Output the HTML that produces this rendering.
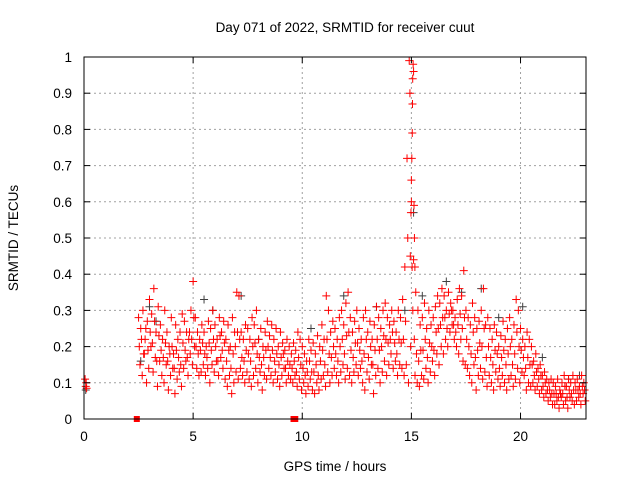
<!DOCTYPE html>
<html><head><meta charset="utf-8"><style>
body{margin:0;background:#fff}
svg text{font-family:"Liberation Sans",sans-serif;font-size:13.5px;fill:#000}
</style></head><body>
<svg id="chart" width="640" height="480" viewBox="0 0 640 480" xmlns="http://www.w3.org/2000/svg">
<rect width="640" height="480" fill="#fff"/>
<g id="grid"></g><g id="marks"></g><g id="axes"></g>
<text x="345" y="32" text-anchor="middle">Day 071 of 2022, SRMTID for receiver cuut</text>
<text x="335" y="471" text-anchor="middle">GPS time / hours</text>
<text transform="translate(18,238) rotate(-90)" text-anchor="middle">SRMTID / TECUs</text>
</svg>
<script>
const xTicks=[0,5,10,15,20];
const yTicks=[0,0.1,0.2,0.3,0.4,0.5,0.6,0.7,0.8,0.9,1];
const yTickLabels=["0","0.1","0.2","0.3","0.4","0.5","0.6","0.7","0.8","0.9","1"];
const mainStart=2.5, mainStep=0.1;
const upperVals=[.28,.25,.30,.22,.27,.33,.29,.36,.24,.31,.26,.22,.30,.24,.20,.28,.18,.26,.22,.24,.29,.27,.24,.22,.30,.38,.28,.24,.22,.26,.24,.20,.27,.25,.30,.26,.22,.28,.24,.27,.22,.26,.20,.28,.24,.35,.34,.24,.22,.26,.25,.22,.28,.26,.30,.22,.25,.20,.24,.27,.23,.26,.22,.25,.20,.24,.21,.19,.22,.20,.18,.21,.19,.24,.22,.20,.18,.16,.22,.19,.21,.18,.23,.20,.26,.22,.34,.30,.24,.27,.25,.22,.28,.30,.26,.32,.35,.28,.24,.27,.30,.25,.22,.28,.30,.24,.27,.22,.26,.31,.28,.25,.30,.32,.28,.26,.30,.27,.24,.30,.28,.33,.42,.72,.99,.60,.44,.35,.30,.26,.28,.32,.25,.30,.26,.28,.31,.34,.32,.36,.34,.30,.35,.32,.30,.28,.33,.36,.34,.41,.30,.28,.26,.32,.28,.25,.27,.30,.36,.26,.28,.25,.22,.26,.24,.20,.23,.27,.22,.25,.28,.22,.26,.33,.30,.25,.22,.20,.24,.22,.20,.16,.18,.14,.15,.12,.13,.11,.10,.11,.10,.09,.11,.08,.10,.12,.09,.11,.10,.12,.10,.11,.09,.12,.10];
const midVals=[.20,.22,.18,.25,.19,.24,.21,.27,.16,.23,.19,.17,.21,.16,.18,.20,.14,.19,.17,.15,.21,.19,.17,.24,.22,.28,.20,.18,.19,.21,.18,.17,.21,.19,.22,.20,.16,.23,.19,.21,.16,.19,.14,.18,.20,.24,.22,.17,.16,.19,.18,.16,.20,.21,.18,.17,.15,.17,.19,.20,.17,.19,.16,.18,.15,.17,.18,.14,.16,.15,.14,.16,.13,.17,.15,.14,.12,.13,.16,.13,.13,.15,.12,.16,.19,.15,.22,.18,.17,.20,.18,.16,.20,.22,.18,.23,.24,.19,.17,.21,.21,.19,.16,.18,.22,.17,.20,.15,.19,.22,.19,.20,.23,.22,.21,.22,.24,.21,.18,.22,.21,.22,.27,.50,.90,.42,.22,.18,.16,.19,.19,.22,.17,.21,.20,.19,.24,.25,.26,.28,.28,.25,.29,.30,.26,.24,.26,.29,.25,.28,.22,.20,.18,.24,.17,.19,.21,.20,.25,.17,.20,.17,.15,.19,.18,.14,.17,.19,.15,.18,.20,.15,.18,.24,.20,.19,.17,.14,.17,.15,.15,.12,.13,.11,.12,.09,.10,.08,.08,.07,.07,.07,.06,.07,.07,.09,.06,.08,.07,.08,.08,.08,.07,.09,.08];
const lowerVals=[.15,.12,.18,.10,.14,.20,.13,.17,.09,.16,.12,.10,.15,.08,.12,.14,.07,.11,.13,.09,.14,.16,.12,.18,.15,.20,.14,.12,.13,.15,.12,.14,.10,.15,.13,.16,.12,.17,.14,.11,.09,.12,.07,.10,.13,.11,.14,.12,.10,.13,.11,.09,.12,.14,.10,.13,.08,.12,.11,.14,.12,.10,.13,.11,.09,.12,.14,.10,.12,.11,.10,.12,.09,.11,.08,.10,.07,.09,.11,.08,.07,.10,.08,.11,.12,.09,.13,.10,.12,.14,.12,.10,.13,.15,.11,.14,.12,.10,.13,.15,.12,.14,.10,.08,.13,.11,.15,.07,.12,.14,.10,.13,.16,.12,.15,.18,.14,.16,.12,.15,.14,.12,.15,.10,.20,.30,.12,.10,.09,.12,.11,.14,.10,.13,.16,.12,.18,.15,.20,.18,.22,.20,.24,.26,.22,.20,.18,.22,.16,.15,.14,.12,.10,.15,.08,.12,.14,.11,.13,.09,.12,.10,.08,.13,.11,.09,.12,.10,.08,.11,.12,.09,.11,.14,.10,.13,.12,.08,.10,.09,.10,.08,.09,.07,.08,.06,.07,.05,.06,.04,.04,.05,.03,.06,.04,.05,.03,.06,.05,.04,.05,.06,.04,.07,.05];
const spikeTimes=[14.95,14.98,15.0,15.02,15.04,15.05,15.06,15.08,15.1,15.12,15.14,15.16,0.05,0.08,0.1,0.12];
const spikeVals=[.45,.57,.66,.72,.79,.87,.94,.98,.96,.59,.5,.42,.11,.09,.10,.085];
const darkTimes=[0.08,2.6,3.0,3.3,5.5,5.9,7.2,8.0,10.4,11.9,13.4,14.7,15.1,15.5,16.6,17.3,18.2,19.0,20.1,21.0,22.2,22.7];
const darkVals=[.08,.16,.31,.27,.33,.30,.34,.22,.25,.34,.31,.30,.57,.34,.38,.35,.36,.28,.31,.17,.11,.12];
const zeroTimes=[2.42,9.6,9.68];
const zeroVals=[0,0,0];
const X0=84,X1=586,Y0=419,Y1=57,XMAX=23;
const xs=v=>X0+(X1-X0)*v/XMAX, ys=v=>Y0-(Y0-Y1)*v;
const NS="http://www.w3.org/2000/svg";
function mk(t,a,p){const e=document.createElementNS(NS,t);for(const k in a)e.setAttribute(k,a[k]);p.appendChild(e);return e;}
const grid=document.getElementById('grid'),axes=document.getElementById('axes'),marks=document.getElementById('marks');
xTicks.forEach(t=>{const x=xs(t);
 if(t>0){const g=mk('line',{x1:x,x2:x,y1:Y1,y2:Y0,stroke:'#a0a0a0','stroke-dasharray':'2,3'},grid);
 }
 mk('line',{x1:x,x2:x,y1:Y0,y2:Y0-6,stroke:'#000'},axes);mk('line',{x1:x,x2:x,y1:Y1,y2:Y1+6,stroke:'#000'},axes);
 const l=mk('text',{x:x,y:Y0+22,'text-anchor':'middle'},axes);l.textContent=t;
 });
yTicks.forEach((t,i)=>{const y=ys(t);
 if(t>0&&t<1){const g=mk('line',{x1:X0,x2:X1,y1:y,y2:y,stroke:'#a0a0a0','stroke-dasharray':'2,3'},grid);
 }
 mk('line',{x1:X0,x2:X0+6,y1:y,y2:y,stroke:'#000'},axes);mk('line',{x1:X1,x2:X1-6,y1:y,y2:y,stroke:'#000'},axes);
 const l=mk('text',{x:X0-12,y:y+5,'text-anchor':'end'},axes);l.textContent=yTickLabels[i];
 });
const fr=mk('rect',{x:X0,y:Y1,width:X1-X0,height:Y0-Y1,fill:'none',stroke:'#000'},axes);

function plus(t,v,c){const x=xs(t),y=ys(v);
 const p=mk('path',{d:`M${x-4},${y}h8M${x},${y-4}v8`,stroke:c,'stroke-width':1,fill:'none'},marks);
 }
darkTimes.forEach((t,i)=>plus(t,darkVals[i],'#404040'));
[upperVals,midVals,lowerVals].forEach((arr,k)=>arr.forEach((v,i)=>plus(mainStart+i*mainStep+k*0.033,v,'#ff0000')));
spikeTimes.forEach((t,i)=>plus(t,spikeVals[i],'#ff0000'));
zeroTimes.forEach((t,i)=>{const r=mk('rect',{x:xs(t)-3,y:ys(zeroVals[i])-3,width:6,height:6,fill:'#ff0000'},marks);
 });
</script>
</body></html>
